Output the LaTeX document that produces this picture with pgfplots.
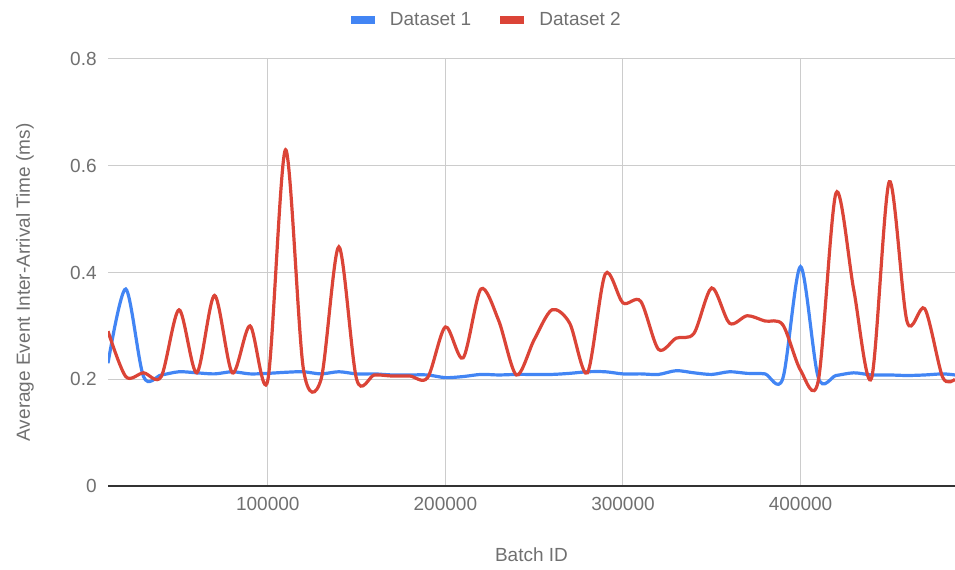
\documentclass[border=0pt]{standalone}
\usepackage{fontspec}
\setmainfont{Liberation Sans}
\usepackage{pgfplots}
\usepackage{pgfplotstable}
\pgfplotsset{compat=1.18}
\definecolor{gblue}{HTML}{4285F4}
\definecolor{gred}{HTML}{DB4437}
\definecolor{ggrid}{HTML}{CCCCCC}
\definecolor{gtext}{HTML}{707070}
\definecolor{gbase}{HTML}{333333}

\pgfplotstableread{
x y
10000 0.230
20000 0.369
30000 0.205
40000 0.208
50000 0.214
60000 0.212
70000 0.210
80000 0.214
90000 0.210
100000 0.211
110000 0.213
120000 0.214
130000 0.210
140000 0.214
150000 0.210
160000 0.210
170000 0.208
180000 0.208
190000 0.208
200000 0.203
210000 0.205
220000 0.209
230000 0.208
240000 0.209
250000 0.209
260000 0.209
270000 0.211
280000 0.214
290000 0.214
300000 0.210
310000 0.210
320000 0.209
330000 0.216
340000 0.212
350000 0.209
360000 0.214
370000 0.211
380000 0.210
390000 0.201
400000 0.411
410000 0.203
420000 0.207
430000 0.212
440000 0.208
450000 0.208
460000 0.207
470000 0.208
480000 0.210
487000 0.208
}\dsone

\pgfplotstableread{
x y
10000 0.290
20000 0.205
30000 0.212
40000 0.205
50000 0.330
60000 0.212
70000 0.357
80000 0.212
90000 0.300
100000 0.198
110000 0.630
120000 0.220
130000 0.200
140000 0.448
150000 0.200
160000 0.208
170000 0.206
180000 0.206
190000 0.203
200000 0.298
210000 0.240
220000 0.369
230000 0.310
240000 0.208
250000 0.274
260000 0.330
270000 0.305
280000 0.212
290000 0.397
300000 0.343
310000 0.346
320000 0.256
330000 0.277
340000 0.286
350000 0.371
360000 0.305
370000 0.319
380000 0.309
390000 0.302
400000 0.217
410000 0.197
420000 0.549
430000 0.367
440000 0.202
450000 0.570
460000 0.308
470000 0.332
480000 0.204
487000 0.200
}\dstwo

\begin{document}
\begin{tikzpicture}
\begin{axis}[
  scale only axis, width=423.5pt, height=213.5pt,
  xmin=10000, xmax=487000, ymin=0, ymax=0.8,
  axis line style={draw=none},
  xtick={100000,200000,300000,400000},
  xticklabels={100000,200000,300000,400000},
  ytick={0.2,0.4,0.6,0.8},
  yticklabels={0.2,0.4,0.6,0.8},
  extra y ticks={0},
  extra y tick labels={0},
  extra y tick style={grid style={draw=gbase, line width=1pt}},
  grid=major, grid style={draw=ggrid, line width=0.5pt},
  major tick length=0pt,
  tick style={draw=none},
  scaled x ticks=false,
  ticklabel style={font=\fontsize{9.5}{11}\selectfont, text=gtext, inner sep=0pt},
  xticklabel style={anchor=north, yshift=-5.5pt},
  yticklabel style={anchor=east, xshift=-5.5pt},
  xlabel={Batch ID},
  ylabel={Average Event Inter-Arrival Time (ms)},
  label style={font=\fontsize{9.5}{11}\selectfont, text=gtext, inner sep=0pt},
  xlabel style={at={(axis description cs:0.5,-0.1616)}, anchor=center},
  ylabel style={at={(axis description cs:-0.098,0.4766)}, anchor=center},
  legend columns=-1,
  legend style={at={(axis description cs:0.446,1.0913)}, anchor=center, draw=none, fill=none,
    font=\fontsize{9.5}{11}\selectfont, text=gtext, nodes={inner sep=0pt},
    column sep=7.5pt, /tikz/every even column/.append style={column sep=14.5pt}},
  legend image code/.code={\fill (0pt,-1.25pt) rectangle (10.5pt,1.25pt);},
]
\addplot[color=gblue, line width=1.6pt, smooth] table[x=x,y=y] {\dsone};
\addlegendentry{Dataset 1}
\addplot[color=gred, line width=1.6pt, smooth] table[x=x,y=y] {\dstwo};
\addlegendentry{Dataset 2}
\end{axis}
\pgfresetboundingbox
\path ([xshift=-54pt,yshift=-42pt]current axis.south west) rectangle ([yshift=29.5pt]current axis.north east);
\end{tikzpicture}
\end{document}
